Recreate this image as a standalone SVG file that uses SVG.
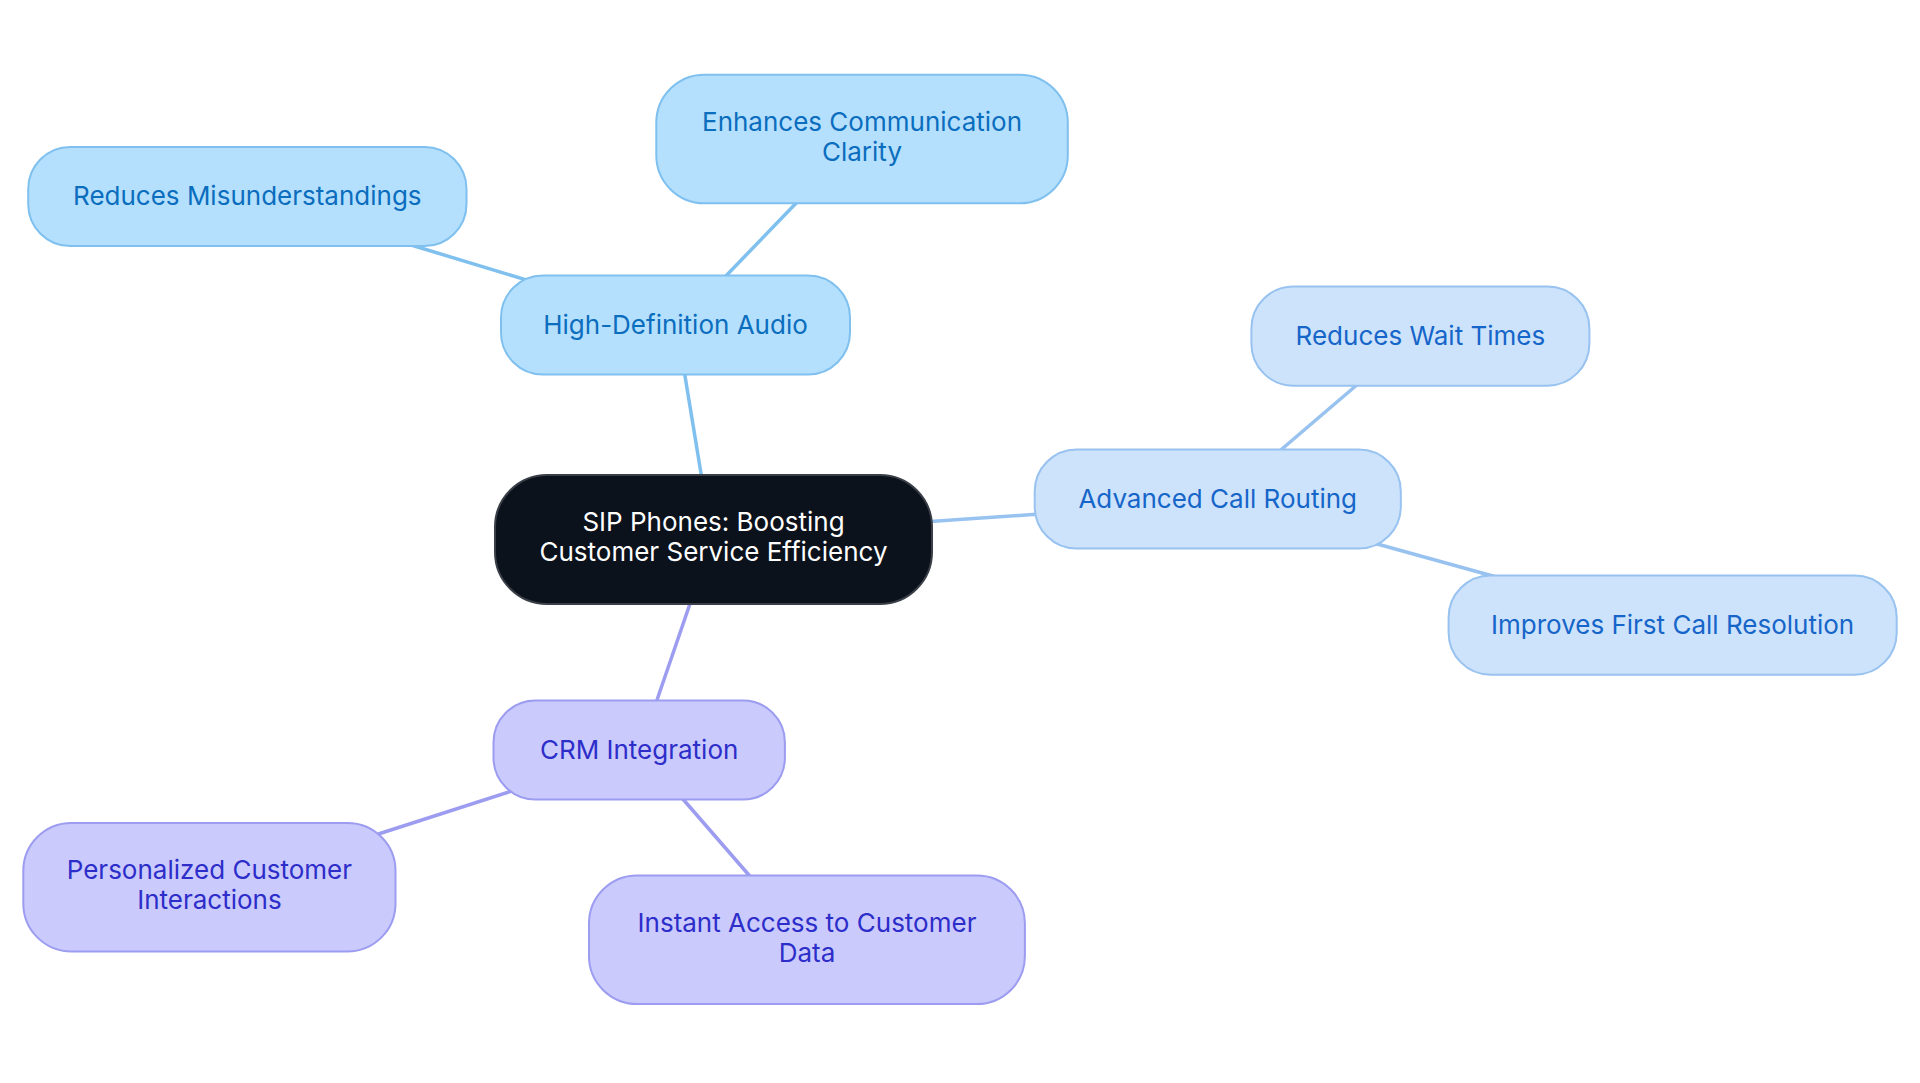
<svg xmlns="http://www.w3.org/2000/svg" width="1920" height="1083" viewBox="0 0 1920 1083">
<style>
text{font-family:"Inter","Noto Sans","Liberation Sans",sans-serif;font-size:26px;text-anchor:middle}
.g1 rect{fill:#b4e0fd;stroke:#7fc0ef;stroke-width:2}
.g1 text{fill:#0b6dbd}
.g2 rect{fill:#cde3fb;stroke:#98c2ef;stroke-width:2}
.g2 text{fill:#1665c9}
.g3 rect{fill:#cacafd;stroke:#9c9cf1;stroke-width:2}
.g3 text{fill:#2d2dc9}
.c1{stroke:#7fc0ef}
.c2{stroke:#98c2ef}
.c3{stroke:#9c9cf1}
#connectors line{stroke-width:3.5;fill:none}
</style>
<rect width="1920" height="1083" fill="#ffffff"/>
<g id="connectors">
<line class="c1" x1="701.6" y1="477" x2="684.5" y2="373"/>
<line class="c1" x1="724.9" y1="277" x2="797.2" y2="202"/>
<line class="c1" x1="527.8" y1="280.4" x2="407.8" y2="244"/>
<line class="c2" x1="930" y1="521.6" x2="1036" y2="514.3"/>
<line class="c2" x1="1279.6" y1="451" x2="1358" y2="384"/>
<line class="c2" x1="1376.3" y1="543.7" x2="1496.4" y2="577"/>
<line class="c3" x1="690.6" y1="602" x2="656.3" y2="702"/>
<line class="c3" x1="511.8" y1="791" x2="378.4" y2="834"/>
<line class="c3" x1="682" y1="798" x2="750.6" y2="877"/>
</g>
<g id="node-center">
<rect x="495" y="475" width="437" height="129" rx="52" fill="#0c121c" stroke="#3a3f47" stroke-width="2"/>
<text x="713.5" y="531" fill="#ffffff">SIP Phones: Boosting</text>
<text x="713.5" y="561" fill="#ffffff">Customer Service Efficiency</text>
</g>
<g id="node-hd-audio" class="g1">
<rect x="501" y="275.5" width="349" height="99" rx="42"/>
<text x="675.5" y="333.5">High-Definition Audio</text>
</g>
<g id="node-enhances" class="g1">
<rect x="656.3" y="74.7" width="411.5" height="128.6" rx="48"/>
<text x="862" y="131">Enhances Communication</text>
<text x="862" y="161">Clarity</text>
</g>
<g id="node-reduces-mis" class="g1">
<rect x="28.2" y="147" width="438.3" height="99" rx="42"/>
<text x="247.3" y="205">Reduces Misunderstandings</text>
</g>
<g id="node-call-routing" class="g2">
<rect x="1034.7" y="449.4" width="366.1" height="99.2" rx="42"/>
<text x="1217.7" y="507.5">Advanced Call Routing</text>
</g>
<g id="node-wait" class="g2">
<rect x="1251.4" y="286.5" width="338" height="99.2" rx="42"/>
<text x="1420.4" y="344.5">Reduces Wait Times</text>
</g>
<g id="node-first-call" class="g2">
<rect x="1448.6" y="575.5" width="448.1" height="99.2" rx="42"/>
<text x="1672.6" y="633.5">Improves First Call Resolution</text>
</g>
<g id="node-crm" class="g3">
<rect x="493.5" y="700.4" width="291.4" height="99.2" rx="42"/>
<text x="639.2" y="758.5">CRM Integration</text>
</g>
<g id="node-personalized" class="g3">
<rect x="23.3" y="822.9" width="372.2" height="128.5" rx="48"/>
<text x="209.4" y="879">Personalized Customer</text>
<text x="209.4" y="909">Interactions</text>
</g>
<g id="node-instant" class="g3">
<rect x="589" y="875.5" width="435.9" height="128.6" rx="48"/>
<text x="807" y="932">Instant Access to Customer</text>
<text x="807" y="962">Data</text>
</g>
</svg>
